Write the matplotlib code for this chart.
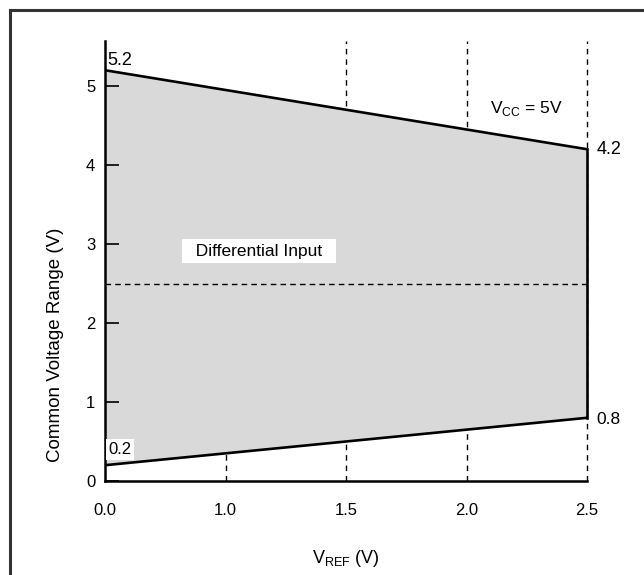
import matplotlib.pyplot as plt
from matplotlib.lines import Line2D

plt.rcParams["font.family"] = ["Liberation Sans", "DejaVu Sans"]

# x axis is drawn with evenly spaced ticks (0.0 -> 1.0 gets the same room as 1.0 -> 1.5)
x_ticks = [0, 1, 2, 3, 4]
x_labels = ["0.0", "1.0", "1.5", "2.0", "2.5"]
x_ends = [0, 4]
upper = [5.2, 4.2]
lower = [0.2, 0.8]
y_ticks = [0, 1, 2, 3, 4, 5]
mid_level = 2.5

fig = plt.figure(figsize=(6.44, 5.75), dpi=100)
ax = fig.add_axes([105 / 644, 94 / 575, 482 / 644, 440 / 575])

# guide lines, partly hidden by the fill
dash = (0, (4, 3.5))
ax.vlines(x_ticks[2:], 0, 5.57, colors="black", linestyles=dash, lw=1.0, zorder=1,
          clip_on=False)
low_at_1 = lower[0] + (lower[1] - lower[0]) * x_ticks[1] / x_ends[1]
ax.vlines(x_ticks[1], 0, low_at_1, colors="black", linestyles=dash, lw=1.0, zorder=1)

ax.fill_between(x_ends, lower, upper, color="#d9d9d9", lw=0, zorder=1.5)
ax.plot(x_ends, upper, color="black", lw=1.9, zorder=4, solid_capstyle="butt")
ax.plot(x_ends, lower, color="black", lw=1.9, zorder=4, solid_capstyle="butt")
ax.plot([x_ends[1], x_ends[1]], [lower[1], upper[1]], color="black", lw=1.9, zorder=4,
        clip_on=False)
ax.hlines(mid_level, x_ends[0], x_ends[1], colors="black", linestyles=(0, (4, 3)),
          lw=1.0, zorder=3)

ax.set_xlim(0, 4)
ax.set_ylim(0, 5.57)
ax.set_xticks(x_ticks)
ax.set_xticklabels(x_labels)
ax.set_yticks(y_ticks)
ax.tick_params(axis="x", length=0, pad=16, labelsize=12)
ax.tick_params(axis="y", direction="in", length=10, width=1.2, pad=7, labelsize=12)
for side in ("top", "right"):
    ax.spines[side].set_visible(False)
for side in ("left", "bottom"):
    ax.spines[side].set_linewidth(1.8)
    ax.spines[side].set_zorder(5)

ax.set_xlabel("V$_{\\mathregular{REF}}$ (V)", fontsize=13)
ax.xaxis.set_label_coords(0.5, -0.152)
ax.set_ylabel("Common Voltage Range (V)", fontsize=13.5)
ax.yaxis.set_label_coords(-0.086, 0.31)

ax.text(0.017, 5.22, "5.2", fontsize=13, ha="left", va="bottom", zorder=6)
ax.text(0.124, 0.40, "0.2", fontsize=12, ha="center", va="center", zorder=6,
        bbox=dict(facecolor="white", edgecolor="none", pad=2))
ax.text(4.08, 4.2, "4.2", fontsize=13, ha="left", va="center", clip_on=False)
ax.text(4.08, 0.78, "0.8", fontsize=12.5, ha="left", va="center", clip_on=False)
ax.text(1.28, 2.91, "  Differential Input  ", fontsize=12.5, ha="center", va="center",
        zorder=6, bbox=dict(facecolor="white", edgecolor="none", pad=3))
ax.text(3.5, 4.72, "V$_{\\mathregular{CC}}$ = 5V", fontsize=12.5, ha="center",
        va="center", zorder=6)

# outer frame (only left and top edges show)
fx, fy = 10 / 644, 1 - 10 / 575
fig.add_artist(Line2D([fx, fx], [0, fy], color="#333333", lw=2.2, transform=fig.transFigure))
fig.add_artist(Line2D([fx, 1], [fy, fy], color="#333333", lw=2.2, transform=fig.transFigure))

fig.savefig("out.png", dpi=100)
